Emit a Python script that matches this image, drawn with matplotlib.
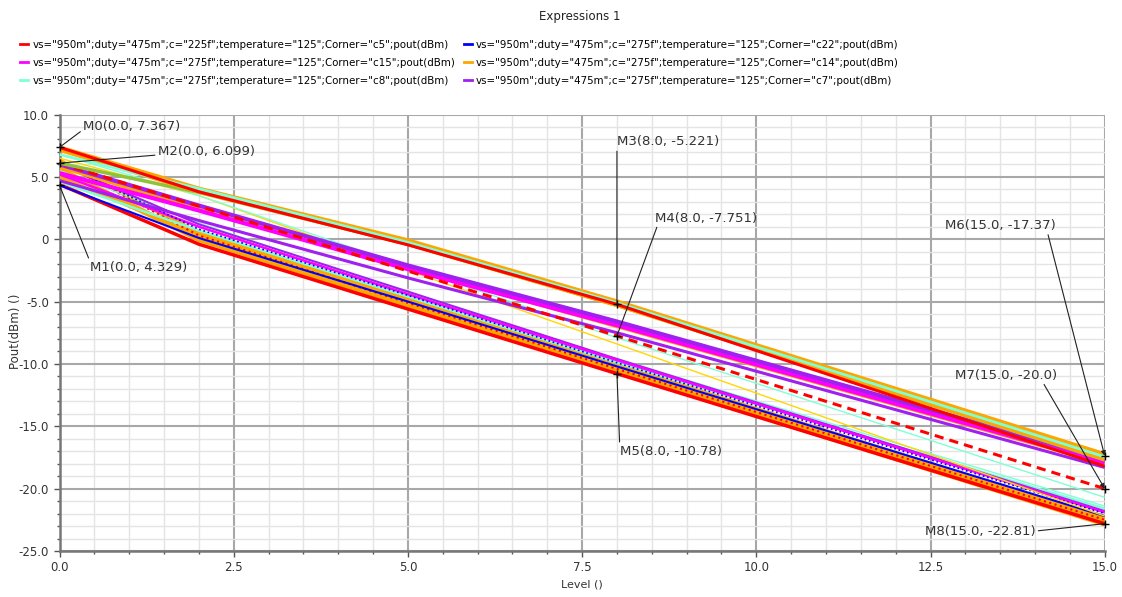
import matplotlib
matplotlib.use("Agg")
import matplotlib.pyplot as plt
from matplotlib.ticker import MultipleLocator, FuncFormatter
from matplotlib.lines import Line2D

# ---------------- data ----------------
levels = [0, 2, 5, 8, 15]

# upper bundle
top_orange_a = [7.30, 4.00, -0.15, -5.05, -17.30]
top_orange_b = [7.20, 3.85, -0.35, -5.25, -17.60]
top_red = [7.367, 3.80, -0.45, -5.221, -18.20]
top_green = [6.10, 3.75, -0.40, -5.30, -17.70]
top_cyan = [6.80, 4.05, -0.25, -5.10, -17.45]

# middle bundle
mid_purple_a = [6.00, 2.70, -2.10, -6.60, -17.60]
mid_magenta = [5.30, 2.30, -2.40, -6.90, -17.90]
mid_purple_b = [4.70, 1.50, -3.10, -7.50, -18.30]
mid_orange = [5.80, 2.40, -2.30, -7.00, -18.00]
mid_red_dash = [6.10, 2.65, -2.55, -7.751, -20.00]
mid_cyan_thin = [6.80, 3.50, -2.20, -7.90, -20.70]
mid_yellow_thin = [6.50, 3.50, -2.50, -8.40, -22.20]

# lower bundle
low_red = [4.40, -0.40, -5.60, -10.78, -22.81]
low_orange_a = [5.60, 0.00, -5.30, -10.60, -22.81]
low_orange_b = [6.30, 0.50, -4.80, -10.10, -22.40]
low_orange_c = [5.00, 0.30, -5.00, -10.30, -22.60]
low_red_b = [6.20, 0.30, -5.10, -10.40, -22.50]
low_blue_a = [4.329, 0.10, -5.00, -10.20, -22.20]
low_blue_b = [6.10, 0.80, -4.50, -9.90, -22.00]
low_magenta = [5.20, 1.00, -4.40, -9.70, -21.90]
low_purple = [6.00, 1.20, -4.20, -9.60, -21.80]
low_cyan = [4.60, 0.70, -4.60, -9.90, -21.60]
low_cyan_thin = [5.50, 1.30, -4.30, -9.60, -21.40]

legend_labels = [
    'vs="950m";duty="475m";c="225f";temperature="125";Corner="c5";pout(dBm)',
    'vs="950m";duty="475m";c="275f";temperature="125";Corner="c22";pout(dBm)',
    'vs="950m";duty="475m";c="275f";temperature="125";Corner="c15";pout(dBm)',
    'vs="950m";duty="475m";c="275f";temperature="125";Corner="c14";pout(dBm)',
    'vs="950m";duty="475m";c="275f";temperature="125";Corner="c8";pout(dBm)',
    'vs="950m";duty="475m";c="275f";temperature="125";Corner="c7";pout(dBm)',
]

marker_names = ["M0", "M1", "M2", "M3", "M4", "M5", "M6", "M7", "M8"]
marker_x = [0.0, 0.0, 0.0, 8.0, 8.0, 8.0, 15.0, 15.0, 15.0]
marker_y = [7.367, 4.329, 6.099, -5.221, -7.751, -10.78, -17.37, -20.0, -22.81]

# ---------------- styles ----------------
RED = "#ff0000"
BLUE = "#0000ff"
MAG = "#ff00ff"
ORANGE = "#ffa500"
CYAN = "#7fffd4"
PURPLE = "#a020f0"
GREEN = "#8fc43a"
YELLOW = "#ffd700"

series = [
    (low_orange_a, ORANGE, 4.0, "-"),
    (low_orange_b, ORANGE, 3.0, "-"),
    (low_orange_c, ORANGE, 2.5, "-"),
    (low_red, RED, 2.5, "-"),
    (low_red_b, RED, 1.5, ":"),
    (low_cyan_thin, CYAN, 1.0, "-"),
    (low_cyan, CYAN, 1.8, "-"),
    (low_purple, PURPLE, 1.5, "-"),
    (low_magenta, MAG, 1.8, "-"),
    (low_blue_b, BLUE, 1.2, ":"),
    (low_blue_a, BLUE, 1.5, "-"),
    (mid_yellow_thin, YELLOW, 1.0, "-"),
    (mid_cyan_thin, CYAN, 1.0, "-"),
    (mid_orange, ORANGE, 2.5, "-"),
    (mid_magenta, MAG, 3.0, "-"),
    (mid_purple_b, PURPLE, 2.2, "-"),
    (mid_purple_a, PURPLE, 3.0, "-"),
    (mid_red_dash, RED, 2.2, (0, (3, 2))),
    (top_green, GREEN, 2.5, "-"),
    (top_orange_b, ORANGE, 3.5, "-"),
    (top_orange_a, ORANGE, 4.0, "-"),
    (top_cyan, CYAN, 2.0, "-"),
    (top_red, RED, 2.2, "-"),
]

legend_colors = [RED, BLUE, MAG, ORANGE, CYAN, PURPLE]

# annotation text positions (data coords) and leader attach points
text_pos = [(0.34, 9.0), (0.44, -2.25), (1.41, 7.07), (8.0, 7.8), (8.55, 1.7),
            (8.04, -17.0), (12.71, 1.1), (12.85, -10.9), (12.42, -23.4)]
relpos = [(0.0, 0.3), (0.0, 0.9), (0.0, 0.2), (0.0, 0.2), (0.03, 0.1),
          (0.0, 0.9), (0.92, 0.1), (0.85, 0.1), (1.0, 0.5)]
arrowed = [False, False, False, False, False, False, True, True, False]

# ---------------- figure ----------------
plt.rcParams["font.family"] = ["DejaVu Sans"]
plt.rcParams["axes.unicode_minus"] = False
fig = plt.figure(figsize=(11.22, 5.97), dpi=100)
fig.patch.set_facecolor("white")
ax = fig.add_axes([59.5 / 1122, 1 - 551 / 597, (1104.7 - 59.5) / 1122, (551 - 114.5) / 597])

for vals, col, lw, ls in series:
    ax.plot(levels, vals, color=col, lw=lw, linestyle=ls, solid_capstyle="butt", zorder=3)

ax.set_xlim(0, 15)
ax.set_ylim(-25, 10)
ax.xaxis.set_major_locator(MultipleLocator(2.5))
ax.xaxis.set_minor_locator(MultipleLocator(0.5))
ax.yaxis.set_major_locator(MultipleLocator(5))
ax.yaxis.set_minor_locator(MultipleLocator(1))
ax.xaxis.set_major_formatter(FuncFormatter(lambda v, p: f"{v:.1f}"))
ax.yaxis.set_major_formatter(FuncFormatter(lambda v, p: "0" if abs(v) < 1e-9 else f"{v:.1f}"))
ax.grid(which="major", color="#a8a8a8", lw=1.5, zorder=1)
ax.grid(which="minor", color="#e4e4e4", lw=1.0, zorder=0)
ax.set_axisbelow(True)
ax.tick_params(which="major", direction="out", length=4, width=1, color="#555555",
               labelsize=8.5, labelcolor="#333333")
ax.tick_params(which="minor", direction="out", length=2.5, width=1, color="#555555")
for s in ["top", "right"]:
    ax.spines[s].set_visible(False)
for s in ["left", "bottom"]:
    ax.spines[s].set_color("#777777")
    ax.spines[s].set_linewidth(1.8)

ax.set_xlabel("Level ()", fontsize=8, color="#333333", labelpad=4)
ax.set_ylabel("Pout(dBm) ()", fontsize=8.5, color="#333333")
ax.yaxis.set_label_coords((22 - 59.5) / 1045.2, 0.504)

for name, mx, my, tp, rp, arr in zip(marker_names, marker_x, marker_y, text_pos, relpos, arrowed):
    ax.plot([mx], [my], marker="+", color="black", ms=6, mew=1, zorder=6, clip_on=False)
    ax.annotate(f"{name}({mx}, {my})", xy=(mx, my), xytext=tp,
                ha="left", va="center", fontsize=9.5, color="#333333", zorder=7,
                annotation_clip=False,
                arrowprops=dict(arrowstyle="-|>" if arr else "-", color="#222222", lw=0.8,
                                shrinkA=0, shrinkB=0, relpos=rp, mutation_scale=7))

fig.text(0.517, 0.973, "Expressions 1", ha="center", va="center", fontsize=8.5, color="#222222")

order = [0, 2, 4, 1, 3, 5]
handles = [Line2D([0], [0], color=legend_colors[i], lw=2) for i in order]
labels = [legend_labels[i] for i in order]
fig.legend(handles, labels, loc="upper left", bbox_to_anchor=(0.018, 1 - 40 / 597), ncol=2,
           frameon=False, fontsize=7.4, handlelength=0.8, handletextpad=0.4,
           columnspacing=0.8, labelspacing=0.78, borderaxespad=0, borderpad=0)

fig.savefig("out.png", dpi=100, facecolor="white")
